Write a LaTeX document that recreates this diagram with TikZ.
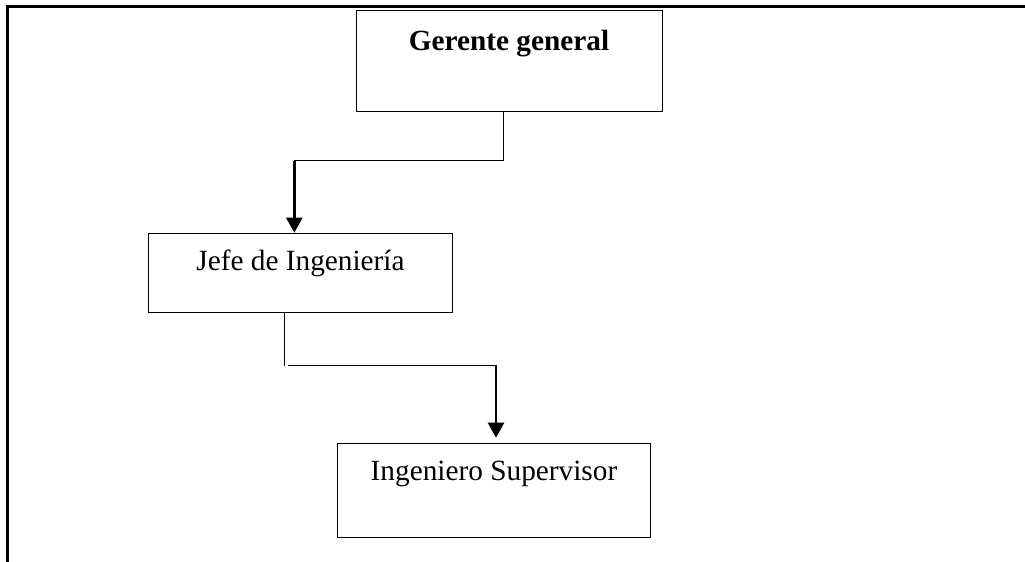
\documentclass[tikz,border=0pt]{standalone}
\usepackage{fontspec}
\setmainfont{Liberation Serif}
\usetikzlibrary{arrows.meta}
\begin{document}
\begin{tikzpicture}[x=1pt,y=-1pt,
  box/.style={draw, line width=1pt, inner sep=0pt, align=center,
    font=\fontsize{29.3}{34}\selectfont},
  link/.style={line width=1pt},
  down/.style={line width=2.4pt, -{Triangle[width=16pt,length=15pt]}},
  frame/.style={line width=2.2pt}]
\useasboundingbox (0,0) rectangle (1025,562);
% page frame
\coordinate (ftl) at (7.5,6.5);
\coordinate (ftr) at (1026,6.5);
\coordinate (fbl) at (7.5,563);
\draw[frame] (ftr) -- (ftl) -- (fbl);
% positions
\node[box, minimum width=306pt, text height=40pt, text depth=61pt]
  (gg) at (509,10) [anchor=north] {\textbf{Gerente general}};
\node[box, minimum width=304.4pt, text height=37.3pt, text depth=41.7pt]
  (jefe) at (300.5,232.7) [anchor=north] {Jefe de Ingenier\'ia};
\node[box, minimum width=313.4pt, text height=37.3pt, text depth=57.3pt]
  (ing) at (494,442.7) [anchor=north] {Ingeniero Supervisor};
% Gerente general -> Jefe de Ingenieria
\coordinate (a1) at (503,160.5);
\coordinate (a2) at (294.3,160.5);
\draw[link] (gg.south -| a1) -- (a1) -- (a2);
\draw[down] (a2) -- (a2 |- jefe.north);
% Jefe de Ingenieria -> Ingeniero Supervisor
\coordinate (b1) at (284,365.7);
\coordinate (b2) at (288,365.3);
\coordinate (b3) at (496,365.3);
\draw[link] (jefe.south -| b1) -- (b1);
\draw[link] (b2) -- (b3);
\draw[down, shorten >=5pt] (b3) -- (b3 |- ing.north);
\end{tikzpicture}
\end{document}
